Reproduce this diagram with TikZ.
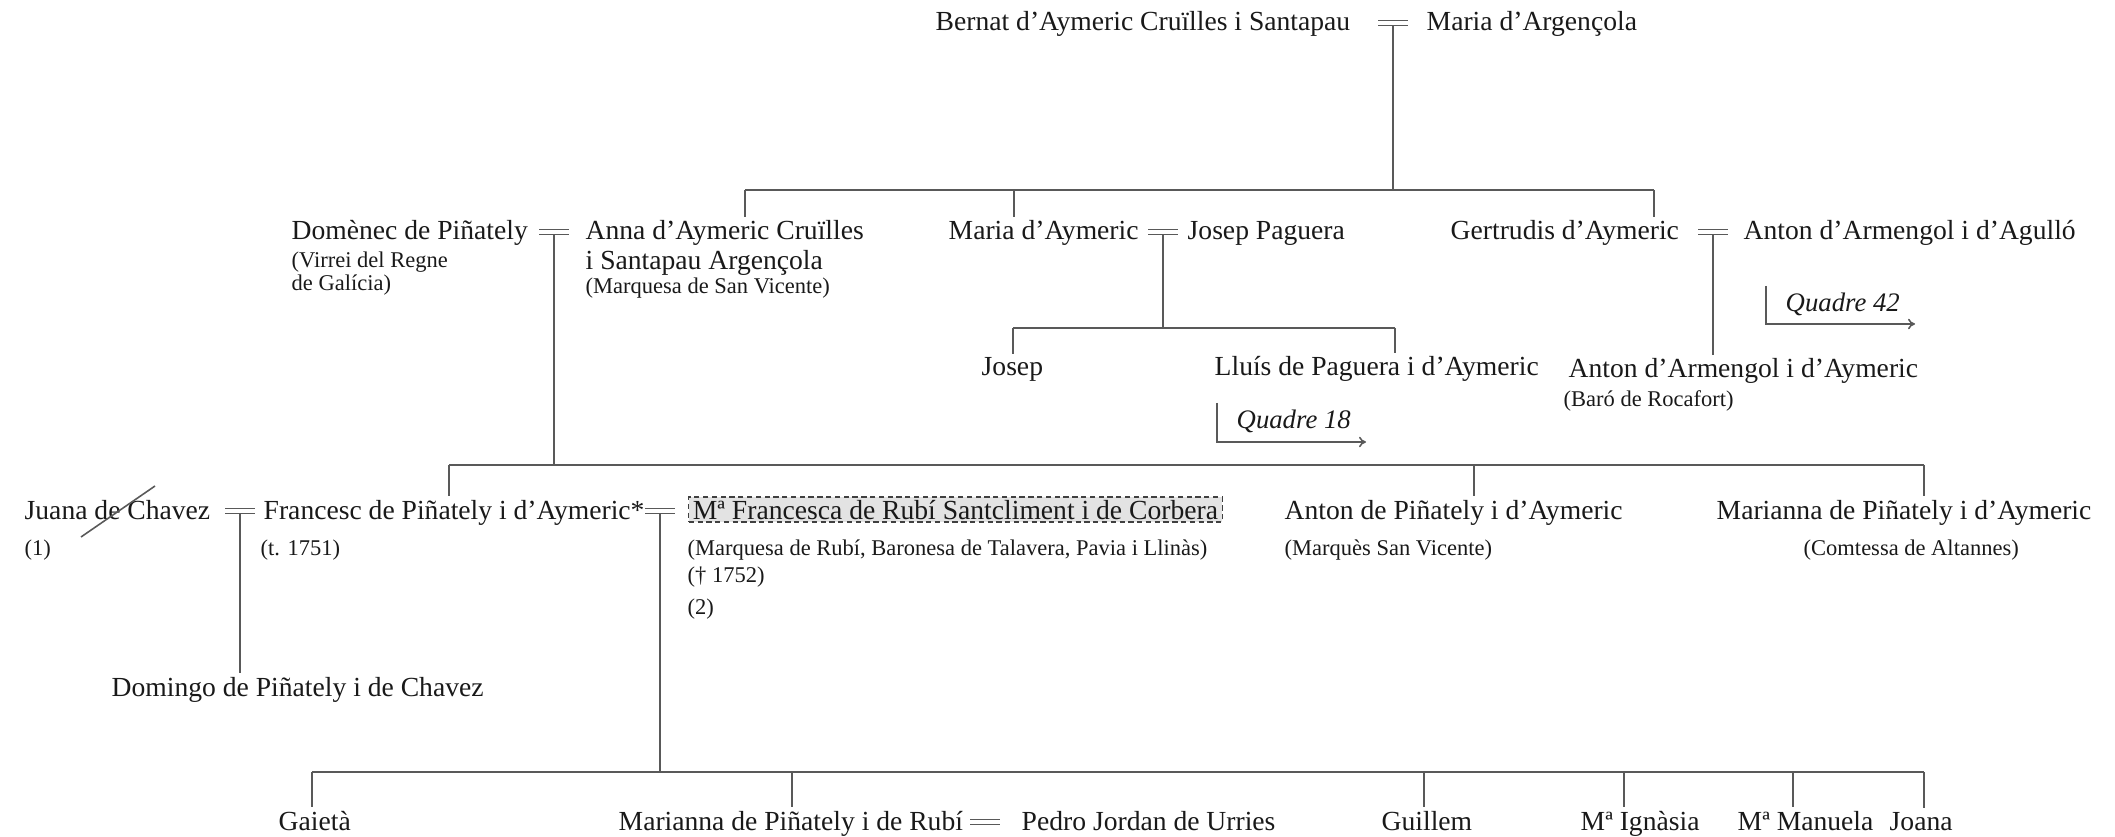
\documentclass[tikz,border=0pt]{standalone}
\usepackage{fontspec}
\setmainfont{Liberation Serif}
\usetikzlibrary{calc, positioning, arrows.meta}

\tikzset{
    pers/.style={anchor=base west, inner sep=0pt, outer ysep=1pt, text=black!90, font=\fontsize{7.85}{9}\selectfont},
    note/.style={anchor=base west, inner sep=0pt, text=black!90, font=\fontsize{6.4}{7.5}\selectfont},
    quadre/.style={anchor=base west, inner sep=0pt, text=black!90, font=\fontsize{7.6}{9}\selectfont\itshape},
    chosen/.style={pers, draw=black!75, dash pattern=on 1.5pt off 1pt, fill=black!11, inner xsep=1.2pt, inner ysep=0.8pt},
    link/.style={draw=black!65, line width=0.45pt},
    wed/.style={link, double, double distance=0.9pt},
    jump/.style={link, -{To[length=2pt, width=3pt]}}
}

\begin{document}
\begin{tikzpicture}[x=0.01cm, y=-0.01cm]
    \useasboundingbox (0,0) rectangle (2115,837);

    % generacio 0
    \node[pers] (bernat) at (935,31) {Bernat d’Aymeric Cruïlles i Santapau};
    \node[pers] (argencola) at (1426,31) {Maria d’Argençola};
    \coordinate (w0) at (1393,23);
    \draw[wed] ($(w0)+(-15,0)$) -- ($(w0)+(15,0)$);

    % generacio 1
    \node[pers] (domenec) at (291,240) {Domènec de Piñately};
    \node[note] (domenec-t1) at (291,268) {(Virrei del Regne};
    \node[note] (domenec-t2) at (291,291) {de Galícia)};
    \coordinate (w1) at (554,232);
    \draw[wed] ($(w1)+(-15,0)$) -- ($(w1)+(15,0)$);
    \node[pers] (anna) at (585,240) {Anna d’Aymeric Cruïlles};
    \node[pers] (anna-2) at (585,270) {i Santapau Argençola};
    \node[note] (anna-t) at (585,294) {(Marquesa de San Vicente)};

    \node[pers] (maria) at (948,240) {Maria d’Aymeric};
    \coordinate (w2) at (1163,232);
    \draw[wed] ($(w2)+(-15,0)$) -- ($(w2)+(15,0)$);
    \node[pers] (paguera) at (1187,240) {Josep Paguera};

    \node[pers] (gertrudis) at (1450,240) {Gertrudis d’Aymeric};
    \coordinate (w3) at (1713,232);
    \draw[wed] ($(w3)+(-15,0)$) -- ($(w3)+(15,0)$);
    \node[pers] (agullo) at (1743,240) {Anton d’Armengol i d’Agulló};

    \coordinate (bus1) at (0,190);
    \draw[link] ($(w0)+(0,3)$) -- (w0 |- bus1);
    \foreach \x/\n in {745/anna, 1014/maria, 1654/gertrudis}
    {
        \coordinate (up-\n) at (\x,190);
        \draw[link] (up-\n) -- (up-\n |- \n.north);
    }
    \draw[link] (up-anna) -- (up-gertrudis);

    % fills de Maria i Josep Paguera
    \node[pers] (josep) at (981,376) {Josep};
    \node[pers] (lluis) at (1214,376) {Lluís de Paguera i d’Aymeric};
    \coordinate (bus2) at (0,328);
    \draw[link] ($(w2)+(0,3)$) -- (w2 |- bus2);
    \foreach \x/\n in {1013/josep, 1395/lluis}
    {
        \coordinate (up-\n) at (\x,328);
        \draw[link] (up-\n) -- (up-\n |- \n.north);
    }
    \draw[link] (up-josep) -- (up-lluis);

    \coordinate (q18a) at (1217,403);
    \coordinate (q18b) at (1366,442);
    \draw[jump] (q18a) |- (q18b);
    \node[quadre] (q18) at (1236,429) {Quadre 18};

    % fill de Gertrudis
    \node[pers] (armengol) at (1568,378) {Anton d’Armengol i d’Aymeric};
    \node[note] (armengol-t) at (1563,407) {(Baró de Rocafort)};
    \draw[link] ($(w3)+(0,3)$) -- (w3 |- armengol.north);

    \coordinate (q42a) at (1766,286);
    \coordinate (q42b) at (1915,324);
    \draw[jump] (q42a) |- (q42b);
    \node[quadre] (q42) at (1785,312) {Quadre 42};

    % generacio 2
    \node[pers] (juana) at (24,519) {Juana de Chavez};
    \node[note] (juana-t) at (24,555) {(1)};
    \draw[link] (81,537) -- (155,486);
    \coordinate (w4) at (240,511);
    \draw[wed] ($(w4)+(-15,0)$) -- ($(w4)+(15,0)$);
    \node[pers] (francesc) at (263,519) {Francesc de Piñately i d’Aymeric*};
    \node[note] (francesc-t) at (260,555) {(t. 1751)};
    \coordinate (w5) at (660,511);
    \draw[wed] ($(w5)+(-15,0)$) -- ($(w5)+(15,0)$);
    \node[chosen] (rubi) at (688,519) {Mª Francesca de Rubí Santcliment i de Corbera};
    \node[note] (rubi-t1) at (687,555) {(Marquesa de Rubí, Baronesa de Talavera, Pavia i Llinàs)};
    \node[note] (rubi-t2) at (687,583) {(† 1752)};
    \node[note] (rubi-t3) at (687,614) {(2)};
    \node[pers] (anton) at (1284,519) {Anton de Piñately i d’Aymeric};
    \node[note] (anton-t) at (1284,555) {(Marquès San Vicente)};
    \node[pers] (marianna) at (1716,519) {Marianna de Piñately i d’Aymeric};
    \node[note] (marianna-t) at (1803,555) {(Comtessa de Altannes)};

    \coordinate (bus3) at (0,465);
    \draw[link] ($(w1)+(0,3)$) -- (w1 |- bus3);
    \foreach \x/\n in {449/francesc, 1474/anton, 1924/marianna}
    {
        \coordinate (up-\n) at (\x,465);
        \draw[link] (up-\n) -- (up-\n |- \n.north);
    }
    \draw[link] (up-francesc) -- (up-marianna);

    \node[pers] (domingo) at (111,696) {Domingo de Piñately i de Chavez};
    \draw[link] ($(w4)+(0,3)$) -- (w4 |- domingo.north);

    % generacio 3
    \node[pers] (gaieta) at (278,830) {Gaietà};
    \node[pers] (mrubi) at (618,830) {Marianna de Piñately i de Rubí};
    \coordinate (w6) at (985,822);
    \draw[wed] ($(w6)+(-15,0)$) -- ($(w6)+(15,0)$);
    \node[pers] (pedro) at (1021,830) {Pedro Jordan de Urries};
    \node[pers] (guillem) at (1381,830) {Guillem};
    \node[pers] (ignasia) at (1580,830) {Mª Ignàsia};
    \node[pers] (manuela) at (1737,830) {Mª Manuela};
    \node[pers] (joana) at (1889,830) {Joana};

    \coordinate (bus4) at (0,772);
    \draw[link] ($(w5)+(0,3)$) -- (w5 |- bus4);
    \foreach \x/\n in {312/gaieta, 792/mrubi, 1424/guillem, 1624/ignasia, 1793/manuela, 1924/joana}
    {
        \coordinate (up-\n) at (\x,772);
        \draw[link] (up-\n) -- (up-\n |- \n.north);
    }
    \draw[link] (up-gaieta) -- (up-joana);
\end{tikzpicture}
\end{document}
